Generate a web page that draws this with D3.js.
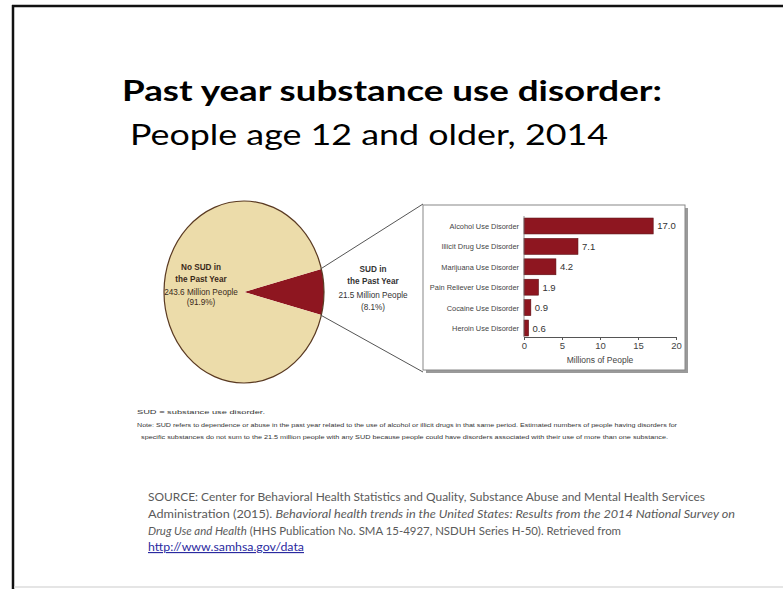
<!DOCTYPE html>
<html>
<head>
<meta charset="utf-8">
<script src="https://cdn.jsdelivr.net/npm/d3@7/dist/d3.min.js"></script>
<style>
  html, body { margin: 0; padding: 0; background: #fff; }
  svg { display: block; }
</style>
</head>
<body>
<svg id="slide" width="783" height="589"></svg>
<script>
// Pie: people age 12+ with / without a substance use disorder (millions)
const pieLabels = ["SUD in the Past Year", "No SUD in the Past Year"];
const pieValues = [21.5, 243.6];
const piePercents = [8.1, 91.9];

// Bars: specific disorders (millions of people)
const categories = [
  "Alcohol Use Disorder",
  "Illicit Drug Use Disorder",
  "Marijuana Use Disorder",
  "Pain Reliever Use Disorder",
  "Cocaine Use Disorder",
  "Heroin Use Disorder"
];
const values = [17.0, 7.1, 4.2, 1.9, 0.9, 0.6];
const xTicks = [0, 5, 10, 15, 20];

const svg = d3.select("#slide");
const W = 783, H = 589;

svg.append("rect").attr("width", W).attr("height", H).attr("fill", "#fff");

// slide frame
svg.append("line").attr("x1", 12).attr("x2", W).attr("y1", 6).attr("y2", 6)
  .attr("stroke", "#111").attr("stroke-width", 2.5);
svg.append("line").attr("x1", 13).attr("x2", 13).attr("y1", 5).attr("y2", H)
  .attr("stroke", "#111").attr("stroke-width", 2.5);
svg.append("line").attr("x1", 14).attr("x2", W).attr("y1", 587).attr("y2", 587)
  .attr("stroke", "#ddd").attr("stroke-width", 1.5);

// titles
svg.append("text").attr("x", 122).attr("y", 101)
  .attr("font-family", "Lato, 'Open Sans', sans-serif").attr("font-weight", 700)
  .attr("font-size", 29).attr("fill", "#000")
  .attr("textLength", 540).attr("lengthAdjust", "spacingAndGlyphs")
  .text("Past year substance use disorder:");
svg.append("text").attr("x", 130).attr("y", 145)
  .attr("font-family", "Lato, 'Open Sans', sans-serif").attr("font-weight", 400)
  .attr("font-size", 29).attr("fill", "#000")
  .attr("textLength", 478).attr("lengthAdjust", "spacingAndGlyphs")
  .text("People age 12 and older, 2014");

// ---- pie (drawn as an ellipse) ----
const cx = 244, cy = 292, rx = 80, ry = 91;
const redAngle = 2 * Math.PI * pieValues[0] / d3.sum(pieValues);
const pie = d3.pie().sort(null)
  .startAngle(Math.PI / 2 - redAngle / 2)
  .endAngle(Math.PI / 2 - redAngle / 2 + 2 * Math.PI);
const arcs = pie(pieValues);
const arc = d3.arc().innerRadius(0).outerRadius(rx);
const pieColors = ["#8e1620", "#ecdcaa"];

const pieG = svg.append("g")
  .attr("transform", `translate(${cx},${cy}) scale(1,${ry / rx})`);
pieG.selectAll("path").data(arcs).join("path")
  .attr("d", arc)
  .attr("fill", (d, i) => pieColors[i])
  .attr("stroke", "none");
pieG.append("ellipse").attr("rx", rx).attr("ry", rx)
  .attr("fill", "none").attr("stroke", "#5a3a22").attr("stroke-width", 1.2)
  .attr("vector-effect", "non-scaling-stroke");

// point on the ellipse rim for a d3 pie angle
const rim = a => [cx + rx * Math.sin(a), cy - ry * Math.cos(a)];
const topEdge = rim(arcs[0].startAngle);
const botEdge = rim(arcs[0].endAngle);

const labelFont = "'Liberation Sans', Arial, sans-serif";
function block(x, ys, lines, color, bolds) {
  lines.forEach((t, i) => {
    svg.append("text").attr("x", x).attr("y", ys[i])
      .attr("text-anchor", "middle")
      .attr("font-family", labelFont)
      .attr("font-size", 8.2)
      .attr("font-weight", bolds[i] ? 700 : 400)
      .attr("fill", color).text(t);
  });
}
block(201, [270, 282, 295, 305],
  ["No SUD in", "the Past Year",
   `${pieValues[1].toFixed(1)} Million People`, `(${piePercents[1].toFixed(1)}%)`],
  "#3a2a1a", [true, true, false, false]);
block(373, [272, 284, 298, 310],
  ["SUD in", "the Past Year",
   `${pieValues[0].toFixed(1)} Million People`, `(${piePercents[0].toFixed(1)}%)`],
  "#333", [true, true, false, false]);

// ---- bar panel ----
const box = { x: 423, y: 205, w: 262, h: 165 };
svg.append("rect").attr("x", box.x + 3).attr("y", box.y + 3)
  .attr("width", box.w).attr("height", box.h).attr("fill", "#9a9a9a");
svg.append("rect").attr("x", box.x).attr("y", box.y)
  .attr("width", box.w).attr("height", box.h)
  .attr("fill", "#fff").attr("stroke", "#888").attr("stroke-width", 1);

// connector lines from the red slice to the panel
svg.append("line").attr("x1", topEdge[0] - 1).attr("y1", topEdge[1])
  .attr("x2", box.x).attr("y2", box.y - 1)
  .attr("stroke", "#555").attr("stroke-width", 1);
svg.append("line").attr("x1", botEdge[0] - 1).attr("y1", botEdge[1])
  .attr("x2", box.x).attr("y2", box.y + box.h + 2)
  .attr("stroke", "#555").attr("stroke-width", 1);

const x = d3.scaleLinear().domain([0, 20]).range([524, 676]);
const y = d3.scaleBand().domain(categories).range([216, 338]).paddingInner(0.22).paddingOuter(0.1);

const barsG = svg.append("g");
barsG.selectAll("rect").data(values).join("rect")
  .attr("x", x(0))
  .attr("y", (d, i) => y(categories[i]))
  .attr("width", d => x(d) - x(0))
  .attr("height", y.bandwidth())
  .attr("fill", "#8e1620")
  .attr("stroke", "#5a0c12").attr("stroke-width", 0.6);

barsG.selectAll("text.val").data(values).join("text")
  .attr("class", "val")
  .attr("x", d => x(d) + 4)
  .attr("y", (d, i) => y(categories[i]) + y.bandwidth() / 2 + 3.5)
  .attr("font-family", labelFont).attr("font-size", 9.5)
  .attr("fill", "#333")
  .text(d => d.toFixed(1));

barsG.selectAll("text.cat").data(categories).join("text")
  .attr("class", "cat")
  .attr("x", x(0) - 5)
  .attr("y", d => y(d) + y.bandwidth() / 2 + 3)
  .attr("text-anchor", "end")
  .attr("font-family", labelFont).attr("font-size", 7.4)
  .attr("fill", "#444")
  .text(d => d);

// x axis
const xAxis = svg.append("g").attr("transform", "translate(0,337)")
  .call(d3.axisBottom(x).tickValues(xTicks).tickSize(3).tickSizeOuter(0));
xAxis.select(".domain").attr("stroke", "#555");
xAxis.selectAll(".tick line").attr("stroke", "#555");
xAxis.selectAll("text").attr("font-family", labelFont).attr("font-size", 9.5)
  .attr("fill", "#444").attr("dy", "0.6em");
svg.append("line").attr("x1", x(0)).attr("x2", x(0)).attr("y1", 216).attr("y2", 337)
  .attr("stroke", "#777").attr("stroke-width", 0.8);
svg.append("text").attr("x", (x(0) + x(20)) / 2).attr("y", 363)
  .attr("text-anchor", "middle")
  .attr("font-family", labelFont).attr("font-size", 8.5).attr("fill", "#444")
  .text("Millions of People");

// ---- notes ----
const noteFont = "'Liberation Sans', Arial, sans-serif";
const notes = [
  { x: 137, y: 414, w: 128, t: "SUD = substance use disorder." },
  { x: 137, y: 427, w: 540, t: "Note: SUD refers to dependence or abuse in the past year related to the use of alcohol or illicit drugs in that same period. Estimated numbers of people having disorders for" },
  { x: 141, y: 439, w: 527, t: "specific substances do not sum to the 21.5 million people with any SUD because people could have disorders associated with their use of more than one substance." }
];
notes.forEach(n => {
  svg.append("text").attr("x", n.x).attr("y", n.y)
    .attr("font-family", noteFont).attr("font-size", 6)
    .attr("fill", "#333")
    .attr("textLength", n.w).attr("lengthAdjust", "spacingAndGlyphs")
    .text(n.t);
});

// ---- source ----
const srcFont = "Lato, 'Open Sans', sans-serif";
const src = svg.append("g").attr("font-family", srcFont).attr("font-size", 11.5).attr("fill", "#5a5a5a");
src.append("text").attr("x", 148).attr("y", 501)
  .attr("textLength", 557).attr("lengthAdjust", "spacingAndGlyphs")
  .text("SOURCE: Center for Behavioral Health Statistics and Quality, Substance Abuse and Mental Health Services");
const l2 = src.append("text").attr("x", 148).attr("y", 518)
  .attr("textLength", 587).attr("lengthAdjust", "spacingAndGlyphs");
l2.append("tspan").text("Administration (2015). ");
l2.append("tspan").attr("font-style", "italic")
  .text("Behavioral health trends in the United States: Results from the 2014 National Survey on");
const l3 = src.append("text").attr("x", 148).attr("y", 535)
  .attr("textLength", 473).attr("lengthAdjust", "spacingAndGlyphs");
l3.append("tspan").attr("font-style", "italic").text("Drug Use and Health");
l3.append("tspan").text(" (HHS Publication No. SMA 15-4927, NSDUH Series H-50). Retrieved from");
src.append("text").attr("x", 148).attr("y", 551)
  .attr("fill", "#2a2aa0").attr("text-decoration", "underline")
  .attr("textLength", 156).attr("lengthAdjust", "spacingAndGlyphs")
  .text("http://www.samhsa.gov/data");
</script>
</body>
</html>
